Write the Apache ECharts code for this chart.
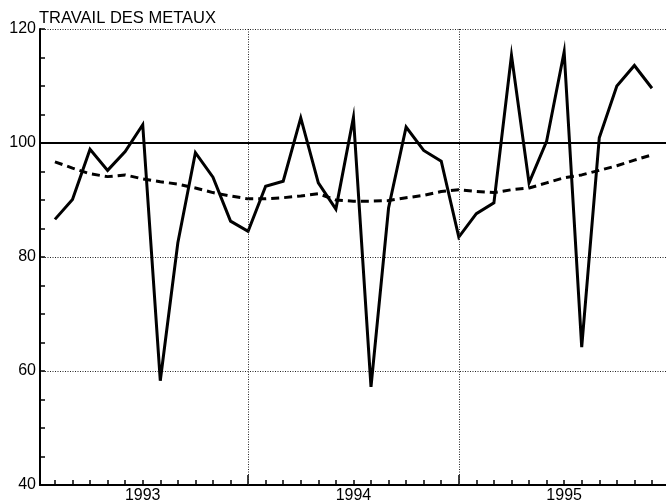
<!DOCTYPE html>
<html>
<head>
<meta charset="utf-8">
<script src="https://cdn.jsdelivr.net/npm/echarts@6/dist/echarts.min.js"></script>
<style>
html,body{margin:0;padding:0;background:#fff;}
#chart{width:666px;height:504px;}
</style>
</head>
<body>
<div id="chart"></div>
<script>
// Monthly index (1 = Jan 1993)
var title = 'TRAVAIL DES METAUX';
var years = ['1993', '1994', '1995'];
var months = [1,2,3,4,5,6,7,8,9,10,11,12,13,14,15,16,17,18,19,20,21,22,23,24,25,26,27,28,29,30,31,32,33,34,35];
var rawSeries = [86.6, 90.1, 98.9, 95.2, 98.5, 103.2, 58.3, 82.5, 98.3, 94.0, 86.3, 84.5,
                 92.4, 93.3, 104.4, 93.0, 88.4, 104.5, 57.2, 88.6, 102.8, 98.7, 96.8, 83.5,
                 87.6, 89.5, 115.4, 93.0, 100.3, 116.0, 64.2, 100.9, 110.0, 113.6, 109.6];
var trendSeries = [96.7, 95.6, 94.6, 94.1, 94.4, 93.7, 93.2, 92.8, 92.1, 91.3, 90.7, 90.2,
                   90.2, 90.4, 90.7, 91.1, 90.0, 89.8, 89.8, 89.9, 90.4, 90.8, 91.5, 91.8,
                   91.5, 91.3, 91.8, 92.1, 93.0, 93.9, 94.4, 95.2, 96.0, 97.0, 97.9];
var yTicks = [40, 60, 80, 100, 120];
var referenceLevel = 100;

var yearBounds = years.slice(1).map(function (y, i) { return (i + 1) * 12; });
var yearCenters = years.map(function (y, i) { return i * 12 + 6; });
var FONT = 'Liberation Sans, Arial, Helvetica, sans-serif';

function pairs(vals) { return months.map(function (m, i) { return [m, vals[i]]; }); }

var chart = echarts.init(document.getElementById('chart'), null, {renderer: 'canvas'});
chart.setOption({
  animation: false,
  backgroundColor: '#ffffff',
  title: {
    text: title, left: 39, top: 10, padding: 0,
    textStyle: {fontFamily: FONT, fontSize: 16.5, fontWeight: 'normal', color: '#000'}
  },
  grid: {left: 40, right: 0, top: 29, bottom: 18, containLabel: false},
  xAxis: [{
    type: 'value', min: 0.15, max: 35.8,
    axisLine: {show: true, lineStyle: {color: '#000', width: 2}},
    axisTick: {show: true, inside: true, length: 5, customValues: months, lineStyle: {color: '#000', width: 1.5}},
    axisLabel: {
      show: true, margin: 3, customValues: yearCenters,
      fontFamily: FONT, fontSize: 16, color: '#000',
      formatter: function (v) { var i = yearCenters.indexOf(v); return i >= 0 ? years[i] : ''; }
    },
    splitLine: {show: false}
  }, {
    type: 'value', min: 0.15, max: 35.8, position: 'bottom',
    axisLine: {show: false},
    axisTick: {show: true, inside: true, length: 10, customValues: yearBounds, lineStyle: {color: '#000', width: 1.5}},
    axisLabel: {show: false},
    splitLine: {show: false}
  }],
  yAxis: {
    type: 'value', min: 40, max: 120, interval: 20,
    axisLine: {show: true, lineStyle: {color: '#000', width: 2}},
    axisTick: {show: true, inside: true, length: 5, lineStyle: {color: '#000', width: 1.5}},
    minorTick: {show: true, splitNumber: 4, length: 5, lineStyle: {color: '#000', width: 1.5}},
    axisLabel: {
      margin: 4, fontFamily: FONT, fontSize: 16, color: '#000',
      customValues: yTicks
    },
    splitLine: {show: true, lineStyle: {color: '#222', width: 1, type: [1, 1.5]}}
  },
  series: [{
    type: 'line', data: pairs(trendSeries), showSymbol: false, symbol: 'none',
    lineStyle: {color: '#000', width: 3, type: [8, 5]},
    markLine: {
      silent: true, symbol: 'none', label: {show: false},
      data: yearBounds.map(function (b) {
        return {xAxis: b, lineStyle: {color: '#222', width: 1, type: [1, 1.5]}};
      }).concat([{yAxis: referenceLevel, lineStyle: {color: '#000', width: 2, type: 'solid'}}])
    }
  }, {
    type: 'line', data: pairs(rawSeries), showSymbol: false, symbol: 'none',
    lineStyle: {color: '#000', width: 3, join: 'miter'}
  }]
});
</script>
</body>
</html>
